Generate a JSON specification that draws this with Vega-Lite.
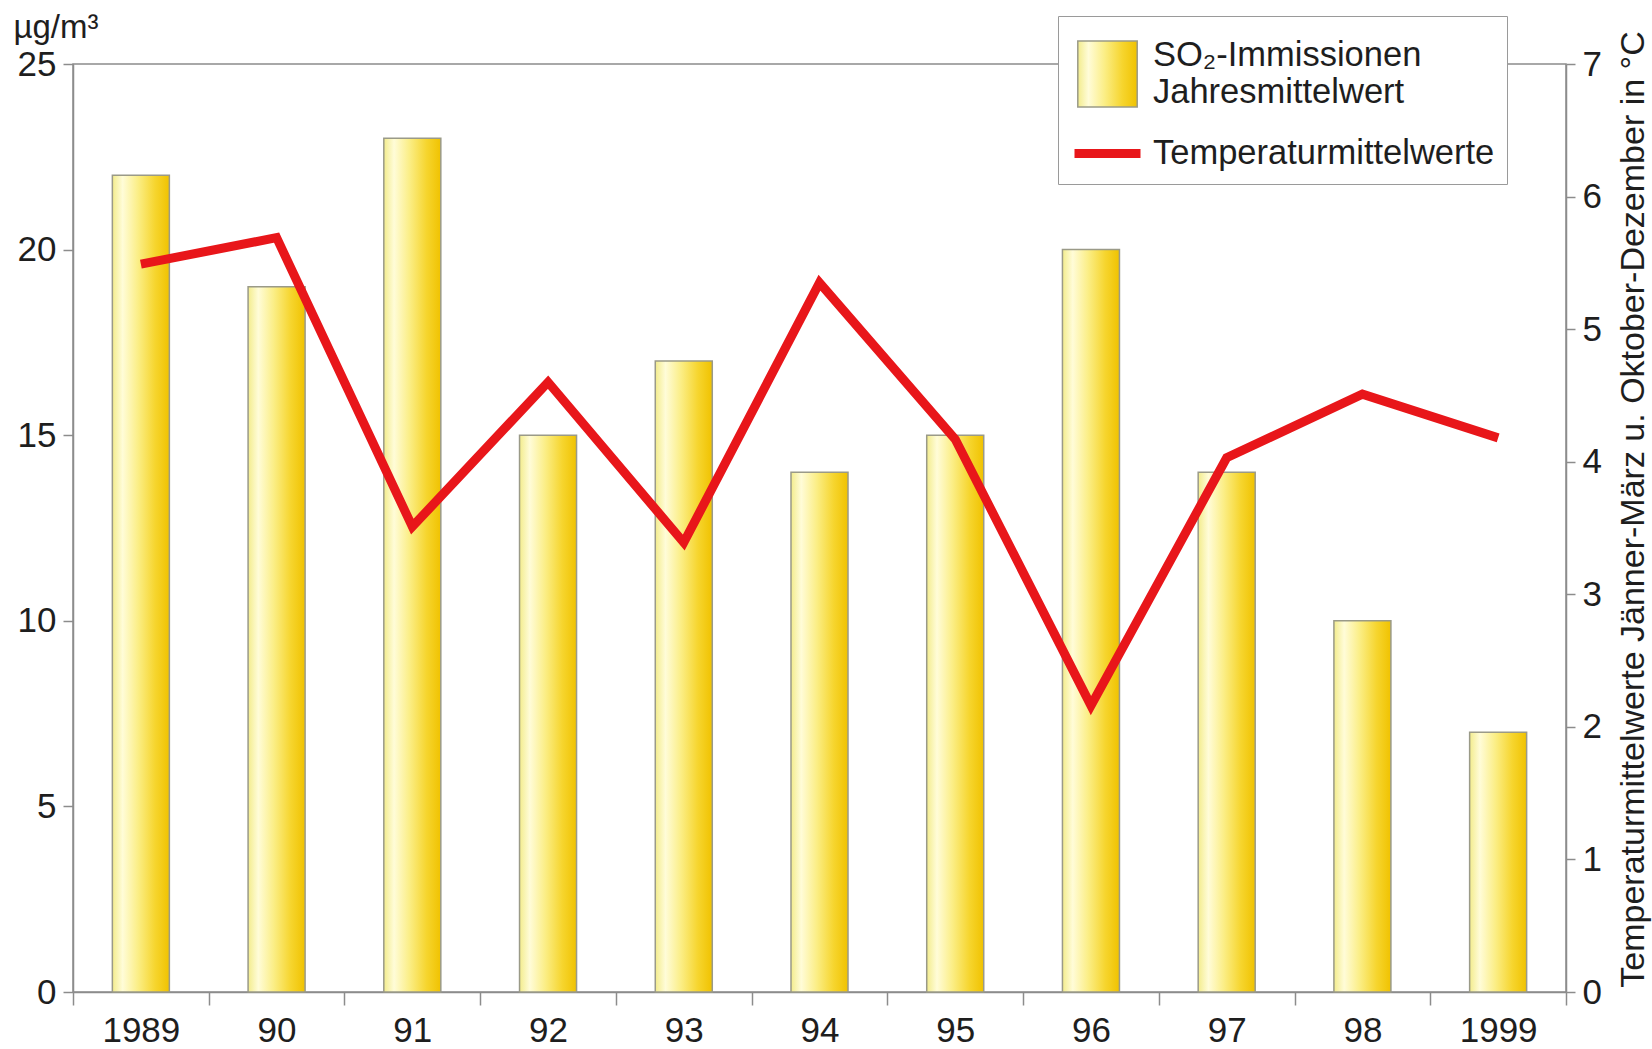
{
  "$schema": "https://vega.github.io/schema/vega-lite/v6.json",
  "width": 1493,
  "height": 928,
  "autosize": "none",
  "padding": {"left": 73, "top": 64, "right": 86, "bottom": 57},
  "background": "white",
  "config": {
    "font": "Liberation Sans",
    "view": {"stroke": "#8c8c8c", "strokeWidth": 1.5},
    "axis": {
      "domainColor": "#8c8c8c", "domainWidth": 1.5,
      "tickColor": "#8c8c8c", "tickWidth": 1.5,
      "labelColor": "#1e1e1e", "labelFontSize": 35, "labelFont": "Liberation Sans",
      "titleColor": "#1e1e1e", "titleFont": "Liberation Sans", "titleFontWeight": "normal",
      "grid": false
    }
  },
  "data": {
    "values": [
      {"year": "1989", "so2": 22, "temp": 5.49},
      {"year": "90", "so2": 19, "temp": 5.69},
      {"year": "91", "so2": 23, "temp": 3.51},
      {"year": "92", "so2": 15, "temp": 4.60},
      {"year": "93", "so2": 17, "temp": 3.39},
      {"year": "94", "so2": 14, "temp": 5.35},
      {"year": "95", "so2": 15, "temp": 4.17},
      {"year": "96", "so2": 20, "temp": 2.16},
      {"year": "97", "so2": 14, "temp": 4.03},
      {"year": "98", "so2": 10, "temp": 4.51},
      {"year": "1999", "so2": 7, "temp": 4.18}
    ]
  },
  "encoding": {
    "x": {
      "field": "year", "type": "nominal", "sort": null,
      "scale": {"paddingInner": 0, "paddingOuter": 0},
      "axis": {"title": null, "labelAngle": 0, "tickBand": "extent", "tickSize": 13, "labelPadding": 8, "labelBaseline": "top"}
    }
  },
  "layer": [
    {
      "mark": {"type": "bar", "width": {"band": 0.42}},
      "encoding": {
        "y": {
          "field": "so2", "type": "quantitative",
          "scale": {"domain": [0, 25], "nice": false},
          "axis": {
            "values": [0, 5, 10, 15, 20, 25], "tickSize": 10, "labelPadding": 7,
            "title": "µg/m³", "titleAngle": 0, "titleAlign": "left", "titleBaseline": "alphabetic",
            "titleX": -60, "titleY": -27, "titleFontSize": 33
          }
        },
        "fill": {
          "datum": "so2",
          "scale": {
            "domain": ["so2", "temp"],
            "range": [
              {"expr": "{gradient: 'linear', x1: 0, y1: 0, x2: 1, y2: 0, stops: [{offset: 0, color: '#f3ec8c'}, {offset: 0.18, color: '#fffcd8'}, {offset: 0.45, color: '#fbee86'}, {offset: 0.75, color: '#f6d52e'}, {offset: 1, color: '#f0c200'}]}"},
              "transparent"
            ]
          }
        },
        "strokeWidth": {
          "datum": "so2", "type": "ordinal",
          "scale": {"domain": ["so2", "temp"], "range": [1.5, 9]}
        },
        "stroke": {
          "datum": "so2",
          "scale": {"domain": ["so2", "temp"], "range": ["#9a9a88", "#e8161a"]},
          "legend": {
            "title": " ",
            "titleFontSize": 2,
            "titlePadding": 10,
            "orient": "none",
            "legendX": 985,
            "legendY": -48,
            "fillColor": "white",
            "strokeColor": "#9a9a9a",
            "padding": 12,
            "rowPadding": 6,
            "labelFontSize": 34.5,
            "labelFont": "Liberation Sans",
            "labelColor": "#1e1e1e",
            "labelOffset": 8,
            "labelLimit": 600,
            "labelBaseline": {"expr": "datum.value === 'so2' ? 'line-bottom' : 'middle'"},
            "symbolSize": 4356,
            "symbolOpacity": 1,
            "symbolType": {"expr": "datum.value === 'so2' ? 'M-0.9,-1H0.9V1H-0.9Z' : 'stroke'"},
            "labelExpr": "datum.value === 'so2' ? ['SO₂-Immissionen', 'Jahresmittelwert'] : 'Temperaturmittelwerte'"
          }
        }
      }
    },
    {
      "mark": {"type": "line", "strokeJoin": "miter", "strokeCap": "butt"},
      "encoding": {
        "y": {
          "field": "temp", "type": "quantitative",
          "scale": {"domain": [0, 7], "nice": false},
          "axis": {
            "orient": "right", "values": [0, 1, 2, 3, 4, 5, 6, 7], "tickSize": 9, "labelPadding": 7,
            "title": "Temperaturmittelwerte Jänner-März u. Oktober-Dezember in °C",
            "titleAngle": 270, "titleAlign": "center", "titleBaseline": "alphabetic",
            "titleX": 77, "titleY": 445, "titleFontSize": 34
          }
        },
        "stroke": {"datum": "temp"},
        "strokeWidth": {"datum": "temp", "type": "ordinal"}
      }
    }
  ],
  "resolve": {"scale": {"y": "independent"}}
}
